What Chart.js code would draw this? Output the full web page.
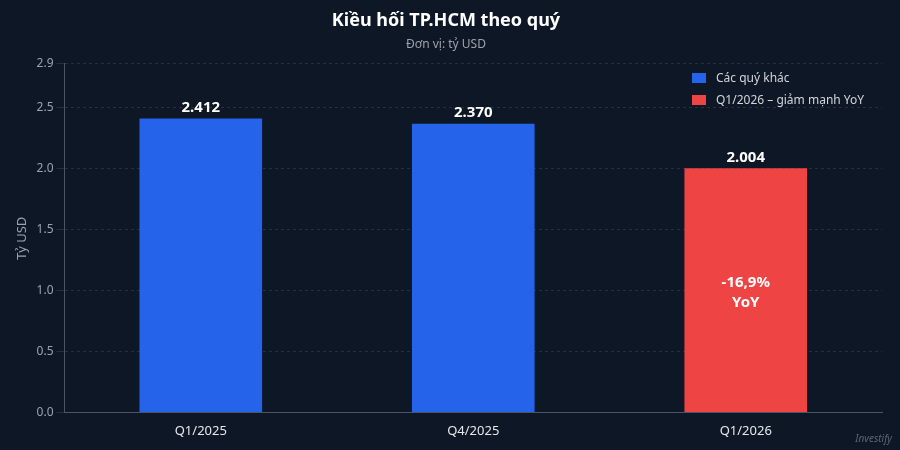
<!DOCTYPE html>
<html><head><meta charset="utf-8">
<script src="https://cdn.jsdelivr.net/npm/chart.js@4"></script>
<style>html,body{margin:0;background:#0e1726;overflow:hidden}</style>
</head><body><canvas id="c" width="900" height="450" style="width:900px;height:450px;display:block"></canvas>
<script>
const categories = ["Q1/2025","Q4/2025","Q1/2026"];
const otherQuarters = [2.412, 2.370, null];
const q12026 = [null, null, 2.004];
const seriesLabels = ["Các quý khác","Q1/2026 – giảm mạnh YoY"];
const valueLabels = ["2.412","2.370","2.004"];
const yoyNote = ["-16,9%","YoY"];
const F = "'Noto Sans', sans-serif";

const deco = {
  id:'deco',
  afterDatasetsDraw(ch){
    const c=ch.ctx;
    c.save();
    ch.data.datasets.forEach((ds,di)=>{
      ch.getDatasetMeta(di).data.forEach((el,i)=>{
        if(ds.data[i]==null) return;
        c.fillStyle='#fff'; c.font='bold 15px '+F; c.textAlign='center'; c.textBaseline='bottom';
        c.fillText(valueLabels[i], el.x, el.y-3);
        if(di===1){
          c.textBaseline='middle';
          const ym=(el.y+el.base)/2+3;
          c.fillText(yoyNote[0], el.x, ym-10);
          c.fillText(yoyNote[1], el.x, ym+10);
        }
      });
    });
    c.font='12px '+F; c.textAlign='left'; c.textBaseline='middle';
    ch.data.datasets.forEach((ds,i)=>{
      const y=78+i*22, x=692;
      c.fillStyle=ds.backgroundColor; c.fillRect(x,y-5,14,10);
      c.fillStyle='#d1d5db'; c.fillText(ds.label, x+24, y+1);
    });
    c.fillStyle='#5b6475'; c.font='italic 10px '+F; c.textAlign='right';
    c.fillText('Investify', 892, 439);
    c.restore();
  }
};

new Chart(document.getElementById('c'),{
  type:'bar',
  data:{labels:categories,datasets:[
    {label:seriesLabels[0],data:otherQuarters,backgroundColor:'#2563eb',barPercentage:0.9,categoryPercentage:0.5},
    {label:seriesLabels[1],data:q12026,backgroundColor:'#ef4444',barPercentage:0.9,categoryPercentage:0.5}
  ]},
  options:{
    responsive:false, animation:false, devicePixelRatio:1,
    layout:{padding:{left:10,right:18,top:0,bottom:8}},
    plugins:{
      legend:{display:false},
      title:{display:true,text:'Kiều hối TP.HCM theo quý',color:'#fff',font:{family:F,size:18,weight:'bold'},padding:{top:10,bottom:6}},
      subtitle:{display:true,text:'Đơn vị: tỷ USD',color:'#9ca3af',font:{family:F,size:12},padding:{bottom:12}},
      tooltip:{enabled:false}
    },
    scales:{
      x:{stacked:true,grid:{display:false},border:{color:'#4b5563'},ticks:{color:'#e5e7eb',font:{family:F,size:13}}},
      y:{stacked:false,min:0,max:2.86,ticks:{stepSize:0.5,color:'#9ca3af',font:{family:F,size:12},callback:v=>v.toFixed(1)},
         grid:{color:'rgba(148,163,184,0.18)'},border:{display:true,color:'#4b5563',dash:[3,3]},
         title:{display:true,text:'Tỷ USD',color:'#9ca3af',font:{family:F,size:13}}}
    }
  },
  plugins:[deco]
});
</script></body></html>
